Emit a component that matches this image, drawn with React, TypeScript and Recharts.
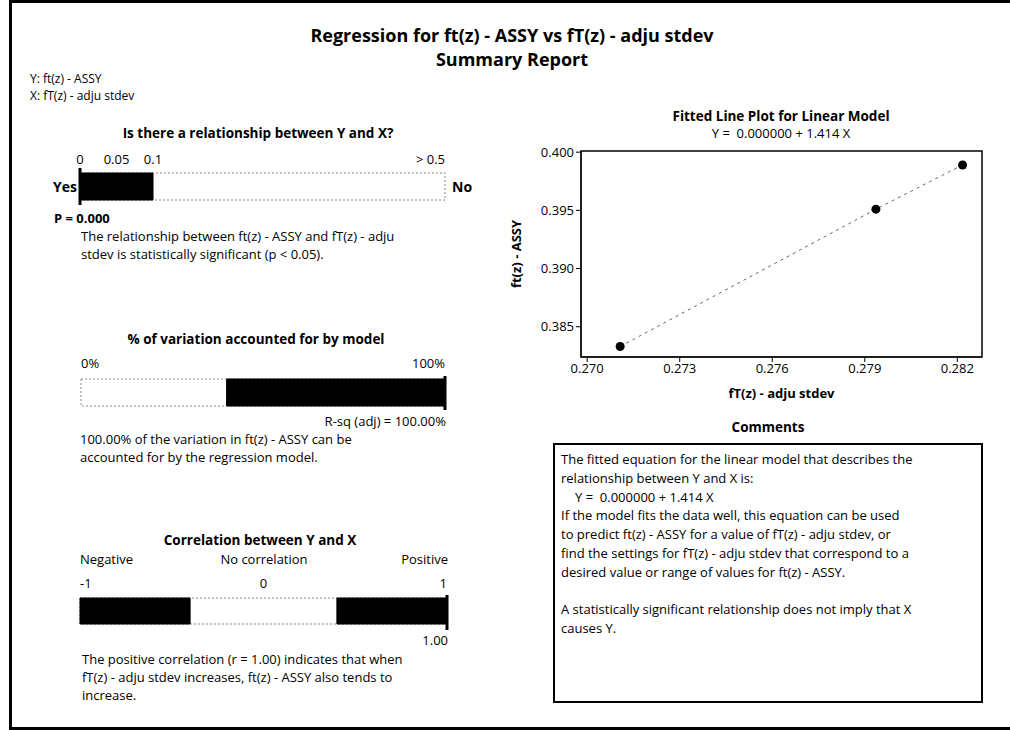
import React from "react";
import {
  ComposedChart,
  Line,
  ReferenceArea,
  ReferenceLine,
  Scatter,
  XAxis,
  YAxis,
} from "recharts";

// fitted line plot
const xStdev = [0.27107, 0.27936, 0.28217];
const yAssy = [0.3833, 0.3951, 0.3989];
const yFitted = [0.3833, 0.3951, 0.3989];
const xTicks = [0.27, 0.273, 0.276, 0.279, 0.282];
const yTicks = [0.385, 0.39, 0.395, 0.4];
const xDomain = [0.2698, 0.2828];
const yDomain = [0.3824, 0.4001];

// p-value gauge (gauge units: 0..0.1 takes first fifth, 0.1..0.5 the rest)
const pTickLabels = ["0", "0.05", "0.1", "> 0.5"];
const pTickValues = [0, 0.1, 0.2, 1];
const pShaded = [[0, 0.2]];
const pMarker = 0;

// R-sq gauge
const rsqTickLabels = ["0%", "100%"];
const rsqTickValues = [0, 100];
const rsqShaded = [[40, 100]];
const rsqAdj = 100;

// correlation gauge
const corrTickLabels = ["-1", "0", "1"];
const corrTickValues = [-1, 0, 1];
const corrShaded = [
  [-1, -0.4],
  [0.4, 1],
];
const corrR = 1;

const commentLines = [
  "The fitted equation for the linear model that describes the",
  "relationship between Y and X is:",
  "  Y =  0.000000 + 1.414 X",
  "If the model fits the data well, this equation can be used",
  "to predict ft(z) - ASSY for a value of fT(z) - adju stdev, or",
  "find the settings for fT(z) - adju stdev that correspond to a",
  "desired value or range of values for ft(z) - ASSY.",
  "",
  "A statistically significant relationship does not imply that X",
  "causes Y.",
];

const FONT = '"Open Sans", "Liberation Sans", Arial, sans-serif';

function T({ x, y, children, size = 13, bold = false, align = "left" }: any) {
  const shift = align === "center" ? "-50%" : align === "right" ? "-100%" : "0";
  return (
    <div
      style={{
        position: "absolute",
        left: x,
        top: y,
        transform: `translate(${shift}, -50%)`,
        fontSize: size,
        fontWeight: bold ? 700 : 400,
        lineHeight: 1,
        whiteSpace: "pre",
        color: "#000",
      }}
    >
      {children}
    </div>
  );
}

function Gauge({
  x0,
  x1,
  tickY,
  barTop,
  barBottom,
  markTop,
  markBottom,
  domain,
  tickValues,
  tickLabels,
  anchors,
  shaded,
  marker,
}: any) {
  const top = tickY - 14;
  const axisH = markTop - top;
  const span = markBottom - markTop;
  const yb = (markBottom - barBottom) / span;
  const yt = (markBottom - barTop) / span;
  // tick points give the axes their extent
  const pts = tickValues.map((v: number) => ({ g: v, h: 0.5 }));
  return (
    <div style={{ position: "absolute", left: x0 - 20, top }}>
      <ComposedChart
        width={x1 - x0 + 40}
        height={markBottom - top}
        data={pts}
        margin={{ top: 0, right: 20, bottom: 0, left: 20 }}
      >
        <XAxis
          dataKey="g"
          type="number"
          orientation="top"
          domain={domain}
          allowDataOverflow
          ticks={tickValues}
          interval={0}
          height={axisH}
          axisLine={false}
          tickLine={false}
          tick={(p: any) => (
            <text
              x={p.x}
              y={18}
              textAnchor={anchors[p.index]}
              fontSize={13}
              fontFamily={FONT}
              fill="#000"
            >
              {tickLabels[tickValues.indexOf(p.payload.value)]}
            </text>
          )}
        />
        <YAxis dataKey="h" type="number" domain={[0, 1]} allowDataOverflow hide />
        <Scatter dataKey="h" isAnimationActive={false} shape={() => <g />} />
        <ReferenceArea
          x1={domain[0]}
          x2={domain[1]}
          y1={yb}
          y2={yt}
          fill="#fff"
          fillOpacity={1}
          stroke="#888"
          strokeDasharray="2 2"
        />
        {shaded.map(([a, b]: number[], i: number) => (
          <ReferenceArea
            key={i}
            x1={a}
            x2={b}
            y1={yb}
            y2={yt}
            fill="#000"
            fillOpacity={1}
            stroke="#000"
          />
        ))}
        <ReferenceLine x={marker} stroke="#000" strokeWidth={3} />
      </ComposedChart>
    </div>
  );
}

export default function App() {
  const plotData = xStdev.map((x, i) => ({ x, y: yAssy[i], fit: yFitted[i] }));

  return (
    <div
      style={{
        position: "absolute",
        left: 0,
        top: 0,
        width: 1010,
        height: 730,
        background: "#fff",
        overflow: "hidden",
        fontFamily: FONT,
      }}
    >
      <div
        style={{
          position: "absolute",
          left: 9,
          top: 0,
          width: 1010,
          height: 724,
          borderTop: "3px solid #000",
          borderLeft: "3px solid #000",
          borderBottom: "3px solid #000",
        }}
      />

      <T x={512} y={35} size={18} bold align="center">
        Regression for ft(z) - ASSY vs fT(z) - adju stdev
      </T>
      <T x={512} y={59} size={18} bold align="center">
        Summary Report
      </T>
      <T x={30} y={79} size={12}>Y: ft(z) - ASSY</T>
      <T x={30} y={96} size={12}>X: fT(z) - adju stdev</T>

      {/* p-value */}
      <T x={258} y={134} size={13.5} bold align="center">
        Is there a relationship between Y and X?
      </T>
      <Gauge
        x0={80}
        x1={445}
        tickY={160}
        barTop={173}
        barBottom={200}
        markTop={168}
        markBottom={205}
        domain={[0, 1]}
        tickValues={pTickValues}
        tickLabels={pTickLabels}
        anchors={["middle", "middle", "middle", "end"]}
        shaded={pShaded}
        marker={pMarker}
      />
      <T x={77} y={187} size={14} bold align="right">Yes</T>
      <T x={452} y={187} size={14} bold>No</T>
      <T x={54} y={218} bold>P = 0.000</T>
      <T x={81} y={236}>The relationship between ft(z) - ASSY and fT(z) - adju</T>
      <T x={81} y={254}>stdev is statistically significant (p &lt; 0.05).</T>

      {/* R-sq */}
      <T x={256} y={340} size={13.5} bold align="center">
        % of variation accounted for by model
      </T>
      <Gauge
        x0={81}
        x1={445}
        tickY={364}
        barTop={379}
        barBottom={406}
        markTop={376}
        markBottom={410}
        domain={[0, 100]}
        tickValues={rsqTickValues}
        tickLabels={rsqTickLabels}
        anchors={["start", "end"]}
        shaded={rsqShaded}
        marker={rsqAdj}
      />
      <T x={446} y={421} align="right">R-sq (adj) = {rsqAdj.toFixed(2)}%</T>
      <T x={80} y={439}>100.00% of the variation in ft(z) - ASSY can be</T>
      <T x={80} y={457}>accounted for by the regression model.</T>

      {/* correlation */}
      <T x={260} y={541} size={13.5} bold align="center">
        Correlation between Y and X
      </T>
      <T x={80} y={559}>Negative</T>
      <T x={264} y={559} align="center">No correlation</T>
      <T x={448} y={559} align="right">Positive</T>
      <Gauge
        x0={80}
        x1={447}
        tickY={584}
        barTop={598}
        barBottom={624}
        markTop={595}
        markBottom={630}
        domain={[-1, 1]}
        tickValues={corrTickValues}
        tickLabels={corrTickLabels}
        anchors={["start", "middle", "end"]}
        shaded={corrShaded}
        marker={corrR}
      />
      <T x={448} y={640} align="right">{corrR.toFixed(2)}</T>
      <T x={82} y={659}>The positive correlation (r = 1.00) indicates that when</T>
      <T x={82} y={677}>fT(z) - adju stdev increases, ft(z) - ASSY also tends to</T>
      <T x={82} y={695}>increase.</T>

      {/* fitted line plot */}
      <T x={781} y={117} size={13.5} bold align="center">
        Fitted Line Plot for Linear Model
      </T>
      <T x={781} y={133} size={13} align="center">Y =  0.000000 + 1.414 X</T>
      <div style={{ position: "absolute", left: 500, top: 140 }}>
        <ComposedChart
          width={490}
          height={262}
          data={plotData}
          margin={{ top: 11, right: 8, bottom: 0, left: 0 }}
        >
          <XAxis
            dataKey="x"
            type="number"
            domain={xDomain}
            ticks={xTicks}
            allowDataOverflow
            interval={0}
            tickFormatter={(v: number) => v.toFixed(3)}
            height={45}
            stroke="#000"
            tickSize={5}
            tickMargin={2}
            tick={{ fill: "#000", fontSize: 13, fontFamily: FONT }}
            label={{
              value: "fT(z) - adju stdev",
              position: "insideBottom",
              offset: 4,
              fill: "#000",
              fontSize: 13,
              fontWeight: 700,
              fontFamily: FONT,
            }}
          />
          <YAxis
            dataKey="y"
            type="number"
            domain={yDomain}
            ticks={yTicks}
            allowDataOverflow
            interval={0}
            width={81}
            tickFormatter={(v: number) => v.toFixed(3)}
            stroke="#000"
            tickSize={5}
            tickMargin={2}
            tick={{ fill: "#000", fontSize: 13, fontFamily: FONT }}
            label={{
              value: "ft(z) - ASSY",
              angle: -90,
              position: "insideLeft",
              offset: 16,
              fill: "#000",
              fontSize: 13,
              fontWeight: 700,
              fontFamily: FONT,
              style: { textAnchor: "middle" },
            }}
          />
          <ReferenceArea
            x1={xDomain[0]}
            x2={xDomain[1]}
            y1={yDomain[0]}
            y2={yDomain[1]}
            fill="none"
            fillOpacity={0}
            stroke="#000"
            strokeWidth={1.5}
          />
          <Line
            dataKey="fit"
            type="linear"
            stroke="#666"
            strokeWidth={1}
            strokeDasharray="3 4"
            dot={false}
            isAnimationActive={false}
          />
          <Scatter
            dataKey="y"
            isAnimationActive={false}
            shape={(p: any) => <circle cx={p.cx} cy={p.cy} r={4.5} fill="#000" />}
          />
        </ComposedChart>
      </div>

      {/* comments */}
      <T x={768} y={428} size={13.5} bold align="center">Comments</T>
      <div
        style={{
          position: "absolute",
          left: 553,
          top: 443,
          width: 430,
          height: 260,
          border: "2px solid #000",
          boxSizing: "border-box",
        }}
      />
      {commentLines.map((line, i) => (
        <T key={i} x={line.startsWith(" ") ? 575 : 561} y={459 + i * 18.8}>
          {line.trim()}
        </T>
      ))}
    </div>
  );
}
